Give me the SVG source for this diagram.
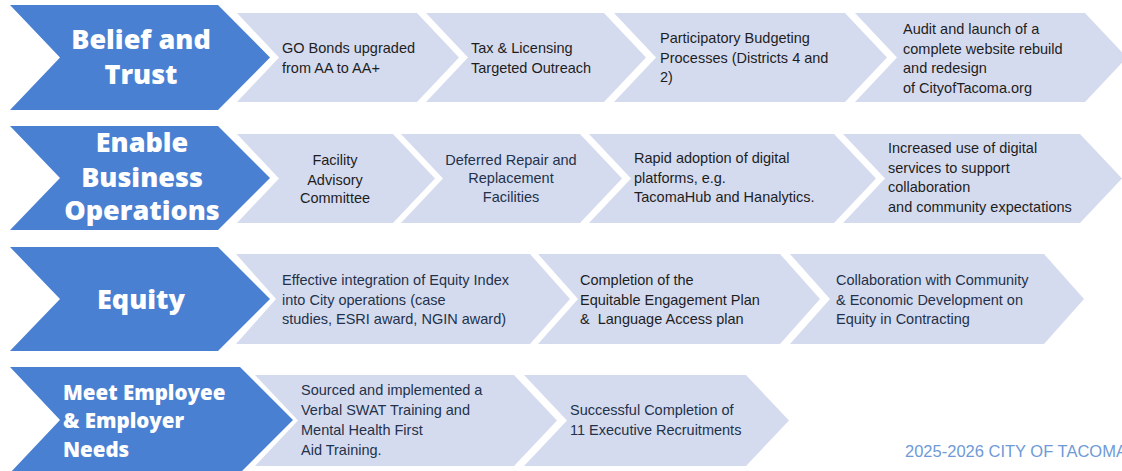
<svg xmlns="http://www.w3.org/2000/svg" width="1122" height="471" viewBox="0 0 1122 471">
<style>
.bg{fill:#ffffff}
.blue{fill:#4a80d2}
.lite{fill:#d5dbef}
.ttl{font-family:"Open Sans","Liberation Sans",sans-serif;font-weight:800;fill:#ffffff;font-size:27px}
.ttl4{font-family:"Open Sans","Liberation Sans",sans-serif;font-weight:800;fill:#ffffff;font-size:20.5px}
.t{font-family:"Liberation Sans",Arial,sans-serif;font-size:14.5px;fill:#1e1e1e}
.tn{font-family:"Liberation Sans",Arial,sans-serif;font-size:14.5px;fill:#23324a}
.mid{text-anchor:middle}
.foot{font-family:"Liberation Sans",Arial,sans-serif;font-size:16.5px;fill:#6f9ad6}
</style>
<rect class="bg" x="0" y="0" width="1122" height="471"/>

<g id="row1">
  <g id="belief-trust">
    <polygon class="blue" points="10,5 218,5 270,57.5 218,110 10,110 60,57.5"/>
    <text class="ttl mid" x="141" y="49">Belief and</text>
    <text class="ttl mid" x="141" y="84">Trust</text>
  </g>
  <g id="go-bonds">
    <polygon class="lite" points="237,13 417,13 459,57.5 417,102 237,102 279,57.5"/>
    <text class="t" x="282" y="53">GO Bonds upgraded</text>
    <text class="t" x="282" y="73">from AA to AA+</text>
  </g>
  <g id="tax-licensing">
    <polygon class="lite" points="426,13 604,13 646,57.5 604,102 426,102 468,57.5"/>
    <text class="t" x="471" y="53">Tax &amp; Licensing</text>
    <text class="t" x="471" y="73">Targeted Outreach</text>
  </g>
  <g id="participatory">
    <polygon class="lite" points="614,13 845,13 887,57.5 845,102 614,102 656,57.5"/>
    <text class="t" x="660" y="43">Participatory Budgeting</text>
    <text class="t" x="660" y="63">Processes (Districts 4 and</text>
    <text class="t" x="660" y="82">2)</text>
  </g>
  <g id="website">
    <polygon class="lite" points="855,13 1085,13 1127,57.5 1085,102 855,102 897,57.5"/>
    <text class="t" x="903" y="34">Audit and launch of a</text>
    <text class="t" x="903" y="54">complete website rebuild</text>
    <text class="t" x="903" y="73">and redesign</text>
    <text class="t" x="903" y="93">of CityofTacoma.org</text>
  </g>
</g>

<g id="row2">
  <g id="enable-business">
    <polygon class="blue" points="10,126 218,126 270,178 218,230 10,230 60,178"/>
    <text class="ttl mid" x="142" y="152">Enable</text>
    <text class="ttl mid" x="142" y="187">Business</text>
    <text class="ttl mid" x="142" y="220">Operations</text>
  </g>
  <g id="facility-committee">
    <polygon class="lite" points="237,134 393,134 435,178.5 393,223 237,223 279,178.5"/>
    <text class="t mid" x="335" y="165">Facility</text>
    <text class="t mid" x="335" y="185">Advisory</text>
    <text class="t mid" x="335" y="203">Committee</text>
  </g>
  <g id="deferred-repair">
    <polygon class="lite" points="401,134 580,134 622,178.5 580,223 401,223 443,178.5"/>
    <text class="tn mid" x="511" y="165">Deferred Repair and</text>
    <text class="tn mid" x="511" y="183">Replacement</text>
    <text class="tn mid" x="511" y="202">Facilities</text>
  </g>
  <g id="digital-platforms">
    <polygon class="lite" points="589,134 834,134 876,178.5 834,223 589,223 631,178.5"/>
    <text class="t" x="634" y="163">Rapid adoption of digital</text>
    <text class="t" x="634" y="183">platforms, e.g.</text>
    <text class="t" x="634" y="202">TacomaHub and Hanalytics.</text>
  </g>
  <g id="digital-services">
    <polygon class="lite" points="843,134 1080,134 1122,178.5 1080,223 843,223 885,178.5"/>
    <text class="t" x="888" y="153">Increased use of digital</text>
    <text class="t" x="888" y="173">services to support</text>
    <text class="t" x="888" y="192">collaboration</text>
    <text class="t" x="888" y="212">and community expectations</text>
  </g>
</g>

<g id="row3">
  <g id="equity">
    <polygon class="blue" points="10,247 218,247 270,299 218,351 10,351 60,299"/>
    <text class="ttl mid" x="141" y="309">Equity</text>
  </g>
  <g id="equity-index">
    <polygon class="lite" points="236,254 530,254 570,299 530,344 236,344 276,299"/>
    <text class="tn" x="282" y="285">Effective integration of Equity Index</text>
    <text class="tn" x="282" y="305">into City operations (case</text>
    <text class="tn" x="282" y="324">studies, ESRI award, NGIN award)</text>
  </g>
  <g id="engagement-plan">
    <polygon class="lite" points="538,254 780,254 820,299 780,344 538,344 578,299"/>
    <text class="t" x="580" y="285">Completion of the</text>
    <text class="t" x="580" y="305">Equitable Engagement Plan</text>
    <text class="t" x="580" y="324" xml:space="preserve">&amp;  Language Access plan</text>
  </g>
  <g id="contracting">
    <polygon class="lite" points="790,254 1044,254 1084,299 1044,344 790,344 830,299"/>
    <text class="tn" x="836" y="285">Collaboration with Community</text>
    <text class="tn" x="836" y="305">&amp; Economic Development on</text>
    <text class="tn" x="836" y="324">Equity in Contracting</text>
  </g>
</g>

<g id="row4">
  <g id="employee-needs">
    <polygon class="blue" points="10,367 240,367 293,420 240,473 10,473 60,420"/>
    <text class="ttl4" x="63" y="400">Meet Employee</text>
    <text class="ttl4" x="63" y="428">&amp; Employer</text>
    <text class="ttl4" x="63" y="457">Needs</text>
  </g>
  <g id="swat-training">
    <polygon class="lite" points="255,375 514,375 557,420.5 514,466 255,466 298,420.5"/>
    <text class="tn" x="301" y="395">Sourced and implemented a</text>
    <text class="tn" x="301" y="415">Verbal SWAT Training and</text>
    <text class="tn" x="301" y="435">Mental Health First</text>
    <text class="tn" x="301" y="455">Aid Training.</text>
  </g>
  <g id="recruitments">
    <polygon class="lite" points="524,375 746,375 789,420.5 746,466 524,466 567,420.5"/>
    <text class="tn" x="570" y="415">Successful Completion of</text>
    <text class="tn" x="570" y="435">11 Executive Recruitments</text>
  </g>
</g>

<g id="connectors"></g>

<text class="foot" x="905" y="457">2025-2026 CITY OF TACOMA</text>
</svg>
